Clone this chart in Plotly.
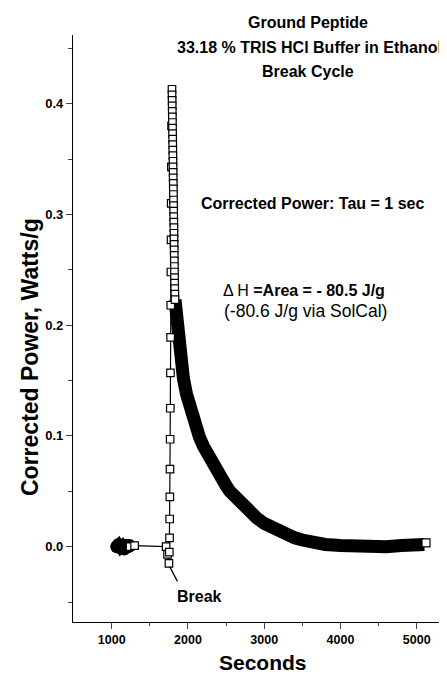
import plotly.graph_objects as go

# ---- data ----
# dense pre-break baseline cluster
base_t = [1065, 1090, 1115, 1140, 1165, 1190, 1215, 1235]
base_p = [0.000, 0.002, -0.001, 0.001, -0.002, 0.001, 0.000, 0.001]

# sparse points: end of baseline, break dip and rising edge
rise_t = [1240, 1300, 1713, 1732, 1750, 1755, 1758, 1760, 1762, 1764, 1766, 1768,
          1770, 1772, 1774, 1776, 1778, 1780, 1782, 1785]
rise_p = [0.000, 0.001, 0.000, -0.007, -0.015, -0.005, 0.008, 0.025, 0.045, 0.070,
          0.097, 0.125, 0.157, 0.189, 0.218, 0.248, 0.277, 0.310, 0.343, 0.380]

# peak and the first, densely sampled part of the decay
peak_t = [1790, 1791, 1792, 1793, 1794, 1795, 1796, 1797, 1798, 1799, 1800, 1801,
          1802, 1803, 1804, 1805, 1806, 1807, 1808, 1809, 1810, 1811, 1812, 1813,
          1814, 1815, 1816, 1817, 1818, 1819, 1820, 1821, 1822, 1823, 1824, 1825,
          1826, 1828, 1830]
peak_p = [0.413, 0.408, 0.403, 0.398, 0.393, 0.388, 0.383, 0.378, 0.373, 0.368,
          0.363, 0.358, 0.353, 0.348, 0.343, 0.338, 0.333, 0.328, 0.323, 0.318,
          0.313, 0.308, 0.303, 0.298, 0.293, 0.288, 0.283, 0.278, 0.273, 0.268,
          0.263, 0.258, 0.253, 0.248, 0.243, 0.238, 0.233, 0.228, 0.223]

# long decay tail (dense, heavy band)
tail_t = [1830, 1850, 1870, 1900, 1940, 1980, 2030, 2100, 2150, 2200, 2300, 2400,
          2500, 2550, 2600, 2700, 2800, 2900, 3000, 3100, 3200, 3300, 3400, 3500,
          3600, 3800, 4000, 4200, 4400, 4600, 4800, 5000, 5100]
tail_p = [0.223, 0.205, 0.190, 0.170, 0.152, 0.138, 0.123, 0.107, 0.099, 0.091,
          0.077, 0.065, 0.055, 0.050, 0.046, 0.039, 0.032, 0.026, 0.021, 0.017,
          0.014, 0.011, 0.008, 0.006, 0.004, 0.002, 0.001, 0.000, 0.001, 0.000,
          0.001, 0.001, 0.002]

end_t = [5122]
end_p = [0.0035]

y_ticks = [0.0, 0.1, 0.2, 0.3, 0.4]
x_ticks = [1000, 2000, 3000, 4000, 5000]

FONT = "Liberation Sans, Arial, sans-serif"

fig = go.Figure()

fig.add_trace(go.Scatter(x=base_t, y=base_p, mode="lines+markers",
                         line=dict(color="black", width=10),
                         marker=dict(symbol="circle", size=13, color="black"),
                         hoverinfo="skip"))
fig.add_trace(go.Scatter(x=tail_t, y=tail_p, mode="lines",
                         line=dict(color="black", width=13), hoverinfo="skip"))
fig.add_trace(go.Scatter(x=rise_t + peak_t, y=rise_p + peak_p, mode="lines+markers",
                         line=dict(color="black", width=1.2),
                         marker=dict(symbol="square", size=7.5, color="white",
                                     line=dict(color="black", width=1.2))))
fig.add_trace(go.Scatter(x=end_t, y=end_p, mode="markers",
                         marker=dict(symbol="square", size=8, color="white",
                                     line=dict(color="black", width=1.2))))

# leader line for the "Break" label
fig.add_shape(type="line", x0=1760, y0=-0.018, x1=1862, y1=-0.0315,
              line=dict(color="black", width=1.3))

# page is offset by the 8px body margin
OFF = 8
W, H = 447 - OFF, 676 - OFF
ml, mr, mt, mb = 73 - OFF, 2, 35 - OFF, 54
pw, ph = W - ml - mr, H - mt - mb
def pxp(xp):  # page x pixel -> paper
    return (xp - 73) / pw
def pyp(yp):  # page y pixel -> paper
    return (622 - yp) / ph

def ann(text, x, y, size, **kw):
    d = dict(text=text, x=x, y=y, xref="paper", yref="paper", showarrow=False,
             font=dict(family=FONT, size=size, color="black"),
             xanchor="center", yanchor="middle")
    d.update(kw)
    fig.add_annotation(**d)

ann("<b>Ground Peptide</b>", pxp(308), pyp(22), 16)
ann("<b>33.18 % TRIS HCl Buffer in Ethanol</b>", pxp(309), pyp(47), 16)
ann("<b>Break Cycle</b>", pxp(308), pyp(71), 16)
ann("<b>Corrected Power: Tau = 1 sec</b>", pxp(312), pyp(203), 16)
ann("Δ H <b>=Area = - 80.5 J/g</b>", pxp(304), pyp(290), 16)
ann("(-80.6 J/g via SolCal)", pxp(305), pyp(311), 17.5)
ann("<b>Break</b>", pxp(199), pyp(596), 16)
ann("<b>Seconds</b>", pxp(263), pyp(676), 21, yanchor="bottom")
ann("<b>Corrected Power, Watts/g</b>", pxp(30), pyp(357), 23, textangle=-90)

fig.update_layout(
    width=W, height=H,
    margin=dict(l=ml, r=mr, t=mt, b=mb),
    plot_bgcolor="white", paper_bgcolor="white",
    showlegend=False,
    font=dict(family=FONT, color="black"),
    xaxis=dict(range=[492, 5371], tickvals=x_ticks,
               ticktext=[f"<b>{v}</b>" for v in x_ticks],
               tickfont=dict(size=12.5), ticks="outside", ticklen=6, tickwidth=1.2,
               minor=dict(tickvals=[1500, 2500, 3500, 4500], ticks="outside",
                          ticklen=3, tickwidth=1.2),
               showline=True, linecolor="black", linewidth=1.3, showgrid=False,
               zeroline=False),
    yaxis=dict(range=[-0.068, 0.462], tickvals=y_ticks,
               ticktext=[f"<b>{v:.1f}</b>" for v in y_ticks],
               tickfont=dict(size=13), ticks="outside", ticklen=6, tickwidth=1.2,
               minor=dict(tickvals=[-0.05, 0.05, 0.15, 0.25, 0.35, 0.45],
                          ticks="outside", ticklen=4, tickwidth=1.2),
               showline=True, linecolor="black", linewidth=1.3, showgrid=False,
               zeroline=False),
)

fig.write_html("out.html")
